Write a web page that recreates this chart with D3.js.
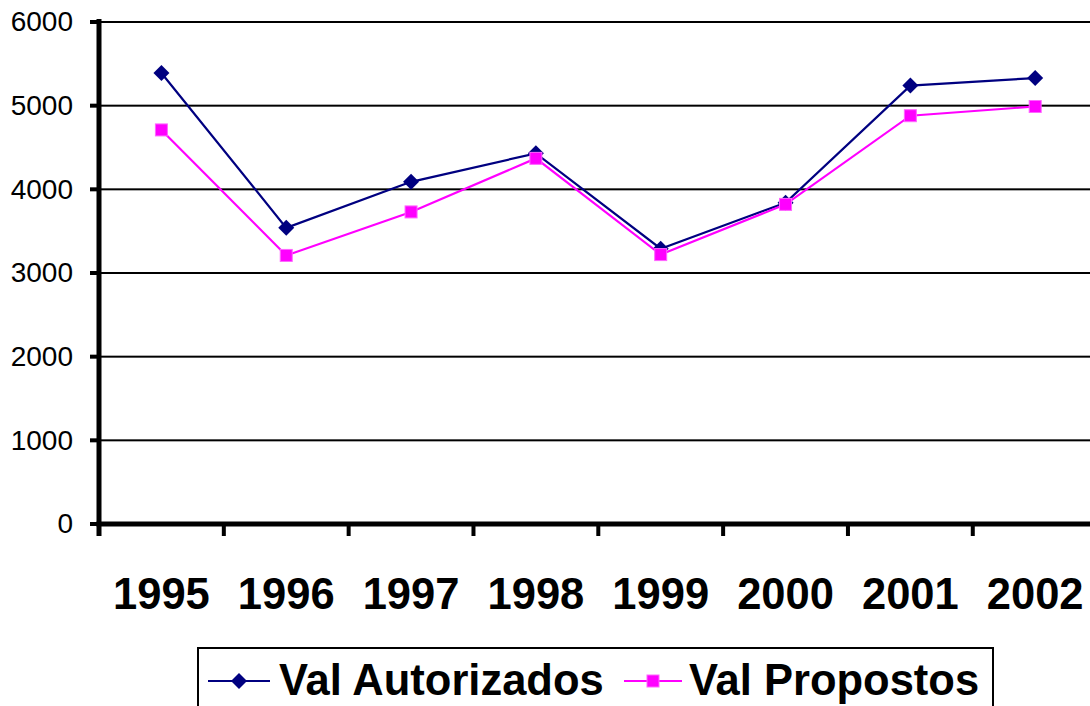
<!DOCTYPE html>
<html><head><meta charset="utf-8">
<script src="https://cdn.jsdelivr.net/npm/d3@7"></script>
<style>body{margin:0;background:#fff}svg{display:block;font-family:Arial,"Liberation Sans",sans-serif}</style>
</head><body>
<svg id="c" width="1090" height="706"></svg>
<script>
const years = ["1995","1996","1997","1998","1999","2000","2001","2002"];
const autorizados = [5390, 3540, 4090, 4430, 3290, 3840, 5240, 5330];
const propostos = [4710, 3210, 3730, 4370, 3220, 3820, 4880, 4990];
const yTicks = [0,1000,2000,3000,4000,5000,6000];
const seriesNames = ["Val Autorizados","Val Propostos"];

const svg = d3.select("#c");
const x = d3.scaleBand().domain(years).range([99, 1097.6]).padding(0);
const y = d3.scaleLinear().domain([0,6000]).range([524, 22]);

// gridlines
svg.append("g").selectAll("rect").data(yTicks.filter(d=>d>0)).join("rect")
  .attr("x",99).attr("width",991).attr("y",d=>y(d)-1).attr("height",2).attr("fill","#000");

// y axis
const ya = svg.append("g").attr("transform","translate(99,0)")
  .call(d3.axisLeft(y).tickValues(yTicks).tickSize(0).tickPadding(26).tickFormat(d3.format("d")));
ya.select(".domain").remove();
ya.selectAll(".tick text").attr("font-size",28).attr("fill","#000").attr("font-family","Arial, 'Liberation Sans', sans-serif");
svg.append("g").selectAll("rect").data(yTicks).join("rect")
  .attr("x",90).attr("width",10).attr("y",d=>y(d)-2).attr("height",4).attr("fill","#000");
svg.append("rect").attr("x",96.5).attr("width",5).attr("y",19).attr("height",517).attr("fill","#000");

// x axis
const xa = svg.append("g").attr("transform","translate(0,524)")
  .call(d3.axisBottom(x).tickSize(0).tickPadding(0));
xa.select(".domain").remove();
xa.selectAll(".tick text").attr("font-size",43.5).attr("font-weight","bold").attr("fill","#000")
  .attr("dy",null).attr("y",85).attr("font-family","Arial, 'Liberation Sans', sans-serif");
svg.append("rect").attr("x",96.5).attr("width",994).attr("y",521.5).attr("height",5).attr("fill","#000");
svg.append("g").selectAll("rect").data(years).join("rect")
  .attr("x",d=>x(d)-2).attr("width",4).attr("y",522).attr("height",14).attr("fill","#000");

const cx = (d,i)=>x(years[i]) + x.bandwidth()/2;
const line = d3.line().x((d,i)=>cx(d,i)).y(d=>y(d));

function drawDiamond(g, px, py){
  g.append("path").attr("d","M0,-8L8,0L0,8L-8,0Z").attr("transform",`translate(${px},${py})`).attr("fill","#000080");
}
function drawSquare(g, px, py){
  g.append("rect").attr("x",px-6).attr("y",py-6).attr("width",12).attr("height",12)
    .attr("fill","#FF00FF").attr("stroke","#FF66FF").attr("stroke-width",1);
}

svg.append("path").datum(autorizados).attr("d",line).attr("fill","none").attr("stroke","#000080").attr("stroke-width",2.2);
const ga = svg.append("g");
autorizados.forEach((v,i)=>drawDiamond(ga, cx(v,i), y(v)));
svg.append("path").datum(propostos).attr("d",line).attr("fill","none").attr("stroke","#FF00FF").attr("stroke-width",2.2);
const gp = svg.append("g");
propostos.forEach((v,i)=>drawSquare(gp, cx(v,i), y(v)));

// legend
const lg = svg.append("g");
lg.append("rect").attr("x",198).attr("y",648).attr("width",795).attr("height",70)
  .attr("fill","#fff").attr("stroke","#000").attr("stroke-width",2);
lg.append("line").attr("x1",208).attr("x2",270).attr("y1",681).attr("y2",681).attr("stroke","#000080").attr("stroke-width",2);
drawDiamond(lg, 239, 681);
lg.append("text").attr("x",279).attr("y",695).attr("font-size",43.5).attr("font-weight","bold").text(seriesNames[0]);
lg.append("line").attr("x1",624).attr("x2",682).attr("y1",681).attr("y2",681).attr("stroke","#FF00FF").attr("stroke-width",2);
drawSquare(lg, 653, 681);
lg.append("text").attr("x",689).attr("y",695).attr("font-size",43.5).attr("font-weight","bold").text(seriesNames[1]);
</script>
</body></html>
